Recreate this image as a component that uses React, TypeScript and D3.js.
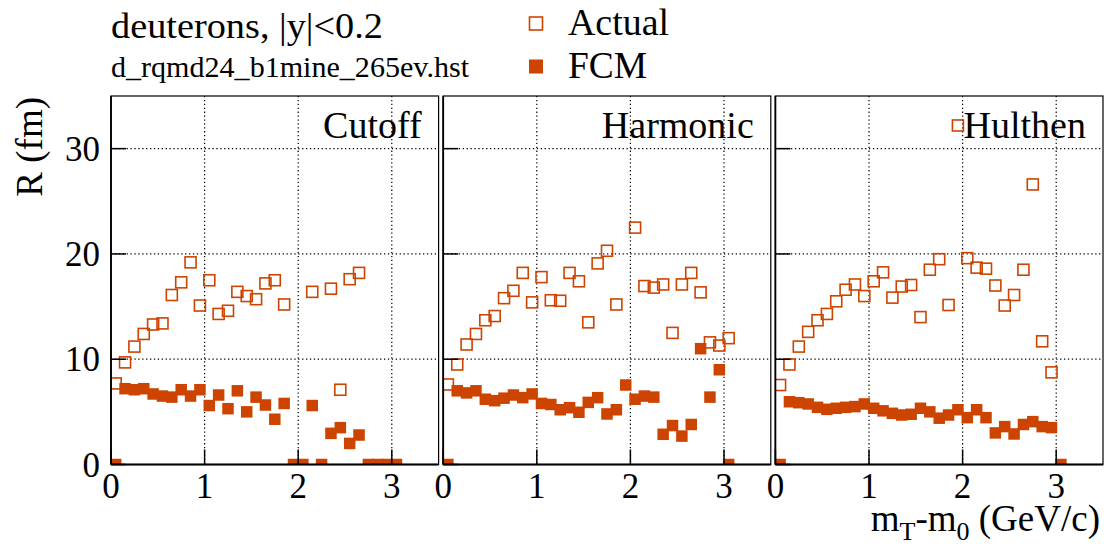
import React from "react";
import * as d3 from "d3";

// ---- data ----
const binCenters = [
  0.05, 0.15, 0.25, 0.35, 0.45, 0.55, 0.65, 0.75, 0.85, 0.95,
  1.05, 1.15, 1.25, 1.35, 1.45, 1.55, 1.65, 1.75, 1.85, 1.95,
  2.05, 2.15, 2.25, 2.35, 2.45, 2.55, 2.65, 2.75, 2.85, 2.95, 3.05,
];
const panelNames = ["Cutoff", "Harmonic", "Hulthen"];

const cutoffActual = [
  7.7, 9.7, 11.2, 12.4, 13.3, 13.4, 16.1, 17.3, 19.2, 15.1,
  17.5, 14.3, 14.6, 16.4, 16.0, 15.7, 17.2, 17.5, 15.2, null,
  null, 16.4, null, 16.7, 7.1, 17.6, 18.2, null, null, null, null,
];
const cutoffFCM = [
  0, 7.2, 7.1, 7.2, 6.7, 6.5, 6.4, 7.1, 6.5, 7.1,
  5.6, 6.6, 5.3, 7.0, 5.0, 6.4, 5.65, 4.3, 5.8, 0,
  0, 5.6, 0, 2.96, 3.5, 2.0, 2.8, 0, 0, 0, 0,
];
const harmonicActual = [
  7.6, 9.5, 11.4, 12.4, 13.7, 14.1, 15.8, 16.5, 18.2, 15.4,
  17.8, 15.6, 15.55, 18.2, 17.4, 13.5, 19.1, 20.3, 15.2, null,
  22.5, 16.95, 16.8, 17.1, 12.5, 17.1, 18.2, 16.35, 11.6, 11.3, 12.0,
];
const harmonicFCM = [
  0, 7.0, 6.8, 7.0, 6.2, 6.06, 6.3, 6.6, 6.35, 6.7,
  5.8, 5.7, 5.2, 5.4, 4.96, 5.9, 6.35, 4.8, 5.2, 7.55,
  6.2, 6.5, 6.4, 2.87, 3.7, 2.7, 3.8, 11.0, 6.4, 9.0, 0,
];
const hulthenActual = [
  7.55, 9.5, 11.2, 12.6, 13.7, 14.3, 15.5, 16.6, 17.1, 16.0,
  17.4, 18.25, 15.85, 16.9, 17.05, 14.0, 18.5, 19.5, 15.15, 32.2,
  19.6, 18.7, 18.6, 17.0, 15.1, 16.1, 18.5, 26.6, 11.7, 8.75, null,
];
const hulthenFCM = [
  0, 5.96, 5.87, 5.75, 5.43, 5.24, 5.34, 5.43, 5.5, 5.75,
  5.34, 5.1, 4.86, 4.7, 4.77, 5.34, 5.0, 4.4, 4.7, 5.2,
  4.45, 5.2, 4.45, 3.0, 3.6, 2.9, 3.8, 4.07, 3.6, 3.5, 0,
];

const xTicks = [0, 1, 2, 3];
const yTicks = [0, 10, 20, 30];
const xDomain = [0, 3.5];
const yDomain = [0, 35];

const actualSeries = [cutoffActual, harmonicActual, hulthenActual];
const fcmSeries = [cutoffFCM, harmonicFCM, hulthenFCM];

// ---- layout / style ----
const W = 1107;
const H = 550;
const top = 96;
const bottom = 464.5;
const panelLefts = [111, 443.2, 775.4];
const panelW = 327.6;
const color = "#cc4400";
const font = "'Liberation Serif', 'Times New Roman', serif";
const openSize = 11;
const fillSize = 11.5;

function Panel({ idx }: { idx: number }) {
  const x0 = panelLefts[idx];
  const x = d3.scaleLinear().domain(xDomain).range([x0, x0 + panelW]);
  const y = d3.scaleLinear().domain(yDomain).range([bottom, top]);
  const clipId = `clip${idx}`;
  const act = actualSeries[idx];
  const fcm = fcmSeries[idx];
  return (
    <g>
      <defs>
        <clipPath id={clipId}>
          <rect x={x0} y={top} width={panelW} height={bottom - top} />
        </clipPath>
      </defs>
      <rect x={x0} y={top} width={panelW} height={bottom - top} fill="#fff" />
      {/* grid */}
      {xTicks.filter((t) => t > 0).map((t) => (
        <line key={"gx" + t} x1={x(t)} x2={x(t)} y1={top} y2={bottom}
          stroke="#000" strokeWidth={1.2} strokeDasharray="1.3,2.6" />
      ))}
      {yTicks.filter((t) => t > 0).map((t) => (
        <line key={"gy" + t} x1={x0} x2={x0 + panelW} y1={y(t)} y2={y(t)}
          stroke="#000" strokeWidth={1.2} strokeDasharray="1.3,2.6" />
      ))}
      <g clipPath={`url(#${clipId})`}>
        {binCenters.map((b, i) =>
          act[i] == null ? null : (
            <rect key={"a" + i} x={x(b) - openSize / 2} y={y(act[i] as number) - openSize / 2}
              width={openSize} height={openSize} fill="none" stroke={color} strokeWidth={1.6} />
          )
        )}
        {binCenters.map((b, i) =>
          fcm[i] == null ? null : (
            <rect key={"f" + i} x={x(b) - fillSize / 2} y={y(fcm[i] as number) - fillSize / 2}
              width={fillSize} height={fillSize} fill={color} />
          )
        )}
      </g>
      {/* frame */}
      <rect x={x0} y={top} width={panelW} height={bottom - top} fill="none" stroke="#000" strokeWidth={1.2} />
      <line x1={x0} x2={x0} y1={top} y2={bottom} stroke="#000" strokeWidth={1.8} />
      <line x1={x0} x2={x0 + panelW} y1={bottom} y2={bottom} stroke="#000" strokeWidth={1.8} />
      {/* ticks */}
      {yTicks.map((t) => (
        <line key={"ty" + t} x1={x0} x2={x0 + 15} y1={y(t)} y2={y(t)} stroke="#000" strokeWidth={1.5} />
      ))}
      {xTicks.map((t) => (
        <line key={"tx" + t} x1={x(t)} x2={x(t)} y1={bottom} y2={bottom - 15} stroke="#000" strokeWidth={1.5} />
      ))}
      {/* tick labels */}
      {xTicks.map((t) => (
        <text key={"lx" + t} x={x(t)} y={498} textAnchor="middle" fontFamily={font} fontSize={35} fill="#000">
          {t}
        </text>
      ))}
      {idx === 0 &&
        yTicks.map((t) => (
          <text key={"ly" + t} x={100} y={y(t) + 12} textAnchor="end" fontFamily={font} fontSize={35} fill="#000">
            {t}
          </text>
        ))}
      <text x={x0 + panelW - 17} y={138} textAnchor="end" fontFamily={font} fontSize={38} fill="#000">
        {panelNames[idx]}
      </text>
    </g>
  );
}

export default function App() {
  return (
    <svg width={W} height={H} style={{ position: "absolute", left: 0, top: 0, background: "#fff" }}>
      <rect x={0} y={0} width={W} height={H} fill="#fff" />
      {panelNames.map((_, i) => (
        <Panel key={i} idx={i} />
      ))}
      {/* header */}
      <text x={111} y={38} fontFamily={font} fontSize={36} fill="#000" textLength={272} lengthAdjust="spacingAndGlyphs">
        deuterons, |y|&lt;0.2
      </text>
      <text x={111} y={77} fontFamily={font} fontSize={29.5} fill="#000" textLength={358} lengthAdjust="spacingAndGlyphs">
        d_rqmd24_b1mine_265ev.hst
      </text>
      {/* legend */}
      <rect x={536 - 6.5} y={23.5 - 6.5} width={13} height={13} fill="none" stroke={color} strokeWidth={1.6} />
      <text x={568} y={35} fontFamily={font} fontSize={37} fill="#000" textLength={101} lengthAdjust="spacingAndGlyphs">Actual</text>
      <rect x={536 - 7} y={66.5 - 7} width={14} height={14} fill={color} />
      <text x={568} y={78} fontFamily={font} fontSize={37} fill="#000" textLength={79} lengthAdjust="spacingAndGlyphs">FCM</text>
      {/* axis titles */}
      <text transform="translate(42,97) rotate(-90)" textAnchor="end" fontFamily={font} fontSize={37} fill="#000">
        R (fm)
      </text>
      <text x={1100} y={531} textAnchor="end" fontFamily={font} fontSize={37} fill="#000">
        m<tspan fontSize={26} dy={9}>T</tspan>
        <tspan dy={-9}>-m</tspan>
        <tspan fontSize={26} dy={9}>0</tspan>
        <tspan dy={-9}> (GeV/c)</tspan>
      </text>
    </svg>
  );
}
